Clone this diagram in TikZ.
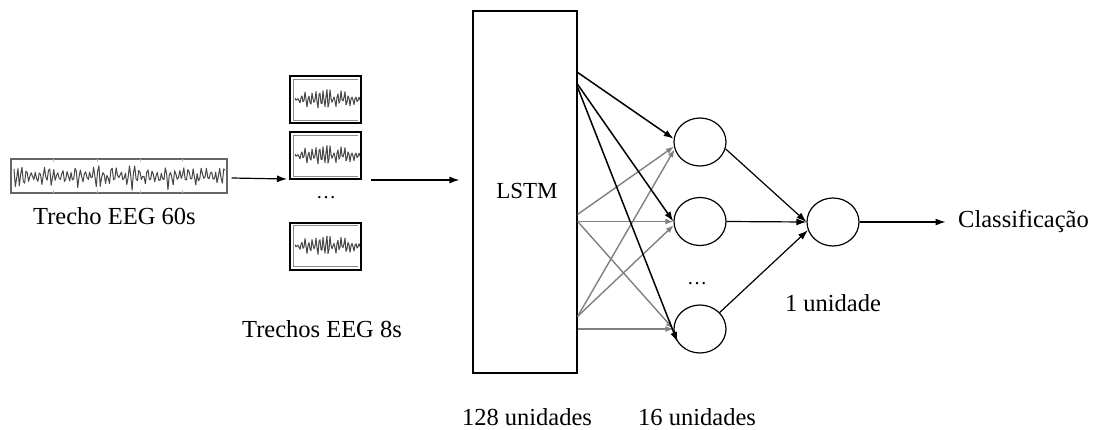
\documentclass[tikz,border=0pt]{standalone}
\usepackage{fontspec}
\setmainfont{Liberation Serif}
\usetikzlibrary{arrows.meta,calc,shapes.geometric}
\begin{document}
\begin{tikzpicture}[x=1pt,y=-1pt,
  lbl/.style={font=\fontsize{24.5}{28}\selectfont, inner sep=0pt},
  arr/.style={-{Latex[length=10pt,width=7pt]}, line width=1.2pt},
  garr/.style={-{Latex[length=8pt,width=6pt]}, line width=1.4pt, draw=black!50, fill=black!50},
  barr/.style={-{Latex[length=10pt,width=7pt]}, line width=1.5pt},
  neuron/.style={ellipse, draw, line width=1.2pt, minimum width=52pt, minimum height=48pt, inner sep=0pt},
  smallbox/.style={draw, line width=2pt, minimum width=71pt, minimum height=47pt, inner sep=0pt},
  wave/.style={line width=1pt, draw=black!72, line join=round},
  tick/.style={draw=black!25, line width=0.8pt}
]
\path[use as bounding box] (0,0) rectangle (1098,429);

% EEG 60s strip
\node[draw=black!60, line width=1.3pt, minimum width=216pt, minimum height=34pt, inner sep=0pt] (eeg60) at (119,176) {};
\foreach \tx in {53,97,140,182}{
  \draw[tick] (\tx,159) -- (\tx,162);
  \draw[tick] (\tx,193) -- (\tx,190);
}
\begin{scope}
  \clip (12,160) rectangle (226,192);
  \pgfmathsetseed{11}
  \draw[wave] plot[domain=14:225, samples=160] (\x, {176 + (3+12*rnd)*(0.45+0.55*abs(sin(mod(\x,360)*6)))*sin(mod(\x,18)*75)});
\end{scope}
\node[lbl, anchor=base west] (t60) at (33,224) {Trecho EEG 60s};

% 8s strips
\foreach \nm/\cy in {s1/99.5, s2/155.5, s3/246}{
  \node[smallbox] (\nm) at (325.5,\cy) {};
  \draw[draw=black!45, line width=0.9pt] (358,\cy-20.5) -- (293,\cy-20.5) -- (293,\cy+20.5) -- (358,\cy+20.5);
  \begin{scope}
    \clip (294,\cy-20) rectangle (360,\cy+20);
    \pgfmathsetseed{5}
    \draw[wave] plot[domain=295:361, samples=67] (\x, {\cy + (1.5+11*rnd)*(0.3+0.7*sin(mod(\x-295,66)*2.73))*sin(mod(\x,18)*100)});
  \end{scope}
}
\node[font=\fontsize{20}{24}\selectfont, inner sep=0pt, anchor=base] (d1) at (326,198) {\dots};
\node[lbl, anchor=base] (t8) at (322,337) {Trechos EEG 8s};

% LSTM
\node[draw, line width=1.2pt, minimum width=104pt, minimum height=362pt, inner sep=0pt] (lstm) at (525,192) {};
\node[font=\fontsize{23}{28}\selectfont, inner sep=0pt, anchor=base] (lstmlbl) at (527,198) {LSTM};
\node[lbl, anchor=base] (t128) at (527,425) {128 unidades};

% neurons
\node[neuron] (h1) at (700,142) {};
\node[neuron] (h2) at (700,221.5) {};
\node[neuron] (h3) at (700,329) {};
\node[neuron] (out) at (833,222) {};
\node[font=\fontsize{20}{24}\selectfont, inner sep=0pt, anchor=base] (d2) at (697,284) {\dots};
\node[lbl, anchor=base west] (t16) at (638,425) {16 unidades};
\node[lbl, anchor=base] (t1) at (833,311) {1 unidade};
\node[lbl, anchor=base west] (tcls) at (958,227) {Classificação};

% input arrows
\draw[arr] ($(eeg60.east)+(4,2)$) -- ($(s2.south west)+(-2,-1)$);
\draw[arr] ($(s2.south east)+(9,0)$) -- ($(lstm.west |- s2.south east)+(-13,0)$);

% LSTM -> hidden (grey)
\draw[garr] ($(lstm.north east)+(0,204)$) -- (h1.190);
\draw[garr] (lstm.east |- h2.west) -- (h2.west);
\draw[garr] ($(lstm.north east)+(0,211)$) -- (h3.west);
\draw[garr] ($(lstm.north east)+(0,306)$) -- (h1.196);
\draw[garr] ($(lstm.north east)+(0,306)$) -- (h2.188);
\draw[garr] (lstm.east |- h3.west) -- (h3.west);
% LSTM -> hidden (black)
\draw[barr] ($(lstm.north east)+(0,62)$) -- (h1.173);
\draw[barr] ($(lstm.north east)+(0,74)$) -- (h2.west);
\draw[barr] ($(lstm.north east)+(0,77)$) -- (h3.210);

% hidden -> output
\draw[arr] (h1.-15) -- (out.west);
\draw[arr] (h2.east) -- (out.west);
\draw[arr] (h3.40) -- (out.198);

% output arrow
\draw[arr] (out.east) -- ($(out.east)+(86,0)$);
\end{tikzpicture}
\end{document}
